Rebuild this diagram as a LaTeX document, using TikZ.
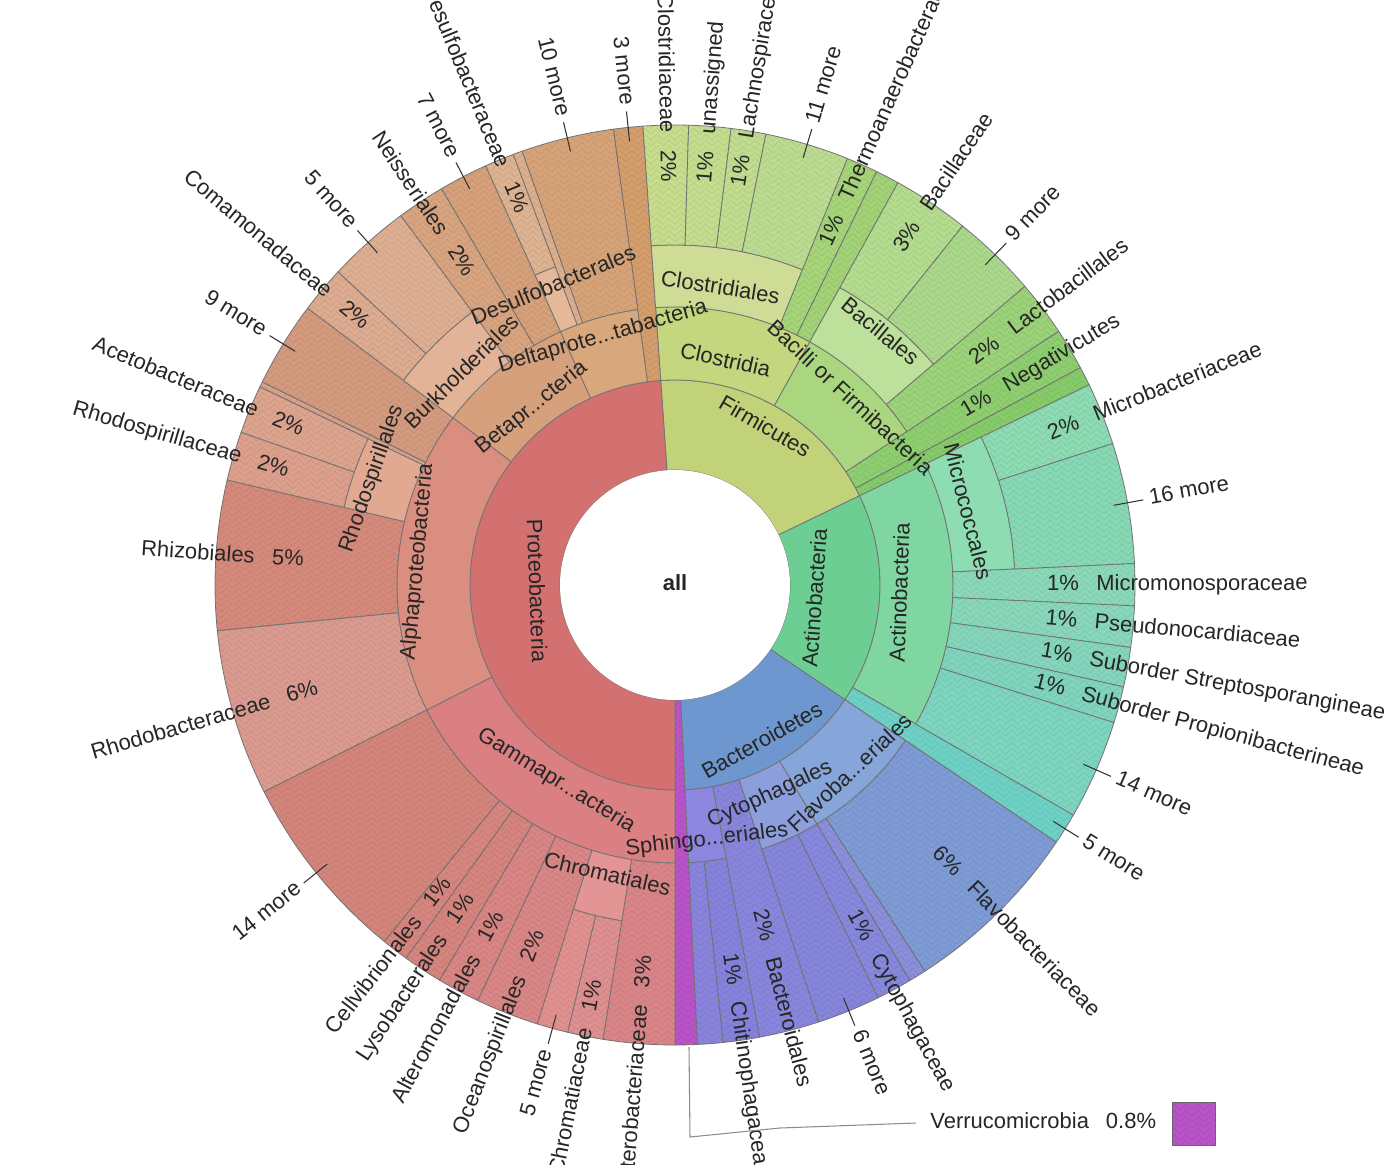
\documentclass[tikz,border=0pt]{standalone}
\usepackage{fontspec}
\setmainfont{Liberation Sans}
\usepackage{tikz}
\usetikzlibrary{positioning}
\usetikzlibrary{patterns.meta}
\pgfdeclarelayer{ringlayer}
\pgfsetlayers{ringlayer,main}
\pgfdeclarepattern{
    name=weave,
    type=uncolored,
    bottom left={\pgfpoint{0pt}{0pt}},
    top right={\pgfpoint{7pt}{7pt}},
    tile size={\pgfpoint{7pt}{7pt}},
    code={
        \pgfsetlinewidth{0.45pt}
        \pgfpathmoveto{\pgfpoint{0pt}{0pt}}\pgfpathlineto{\pgfpoint{3.5pt}{3.5pt}}
        \pgfpathlineto{\pgfpoint{7pt}{0pt}}
        \pgfpathmoveto{\pgfpoint{0pt}{3.5pt}}\pgfpathlineto{\pgfpoint{3.5pt}{7pt}}
        \pgfpathlineto{\pgfpoint{7pt}{3.5pt}}
        \pgfusepath{stroke}
    }
}
\tikzset{
    ring/.style = {draw=black!55, line width=0.45pt, line join=round},
    hatch/.style = {postaction={pattern=weave, pattern color=black, fill opacity=0.07}},
    lbl/.style = {inner sep=0pt, text=black!85, font=\fontsize{12.5}{14}\selectfont, text height=8.9pt, text depth=2.6pt},
    tick/.style = {draw=black!80, line width=0.6pt},
    leader/.style = {draw=black!45, line width=0.6pt}
}
\definecolor{verru}{HTML}{B953C8}

% one piece of a ring: from angle #1 to #2 (clockwise from top), radii #3 to #4, colour #5
\newcommand{\wedgepart}[5]{%
  \definecolor{wedgecol}{HTML}{#5}%
  \pgfmathsetmacro{\wa}{90-(#1)}%
  \pgfmathsetmacro{\wb}{90-(#2)}%
  \ifnum#4=460
    \filldraw[ring, fill=wedgecol, hatch] (\wa:#3) arc[start angle=\wa, end angle=\wb, radius=#3]
      -- (\wb:#4) arc[start angle=\wb, end angle=\wa, radius=#4] -- cycle;
  \else
    \filldraw[ring, fill=wedgecol] (\wa:#3) arc[start angle=\wa, end angle=\wb, radius=#3]
      -- (\wb:#4) arc[start angle=\wb, end angle=\wa, radius=#4] -- cycle;
  \fi}

% radial label of a leaf: name and percentage
\newcommand{\leaflabel}[6]{%
  \pgfmathsetmacro{\mang}{90-((#1)+(#2))/2}%
  \pgfmathsetmacro{\rpct}{((#3)+460)/2+19}%
  \pgfmathsetmacro{\rname}{\rpct+33}%
  \pgfmathtruncatemacro{\rside}{cos(\mang) > -0.001 ? 1 : 0}%
  \ifnum\rside=1
    \node[lbl, rotate=\mang] (#6-pct) at (\mang:\rpct) {#5};
    \node[lbl, rotate=\mang, anchor=west] (#6) at (\mang:\rname) {#4};
  \else
    \pgfmathsetmacro{\mrot}{\mang+180}%
    \node[lbl, rotate=\mrot] (#6-pct) at (\mang:\rpct) {#5};
    \node[lbl, rotate=\mrot, anchor=east] (#6) at (\mang:\rname) {#4};
  \fi}

% "n more" label outside the ring, with its tick
\newcommand{\morelabel}[4]{%
  \pgfmathsetmacro{\mang}{90-((#1)+(#2))/2}%
  \pgfmathtruncatemacro{\rside}{cos(\mang) > -0.001 ? 1 : 0}%
  \coordinate (#4-in) at (\mang:446);
  \ifnum\rside=1
    \node[lbl, inner xsep=0.12cm, rotate=\mang, anchor=west] (#4) at (\mang:476) {#3};
    \draw[tick] (#4-in) -- (#4.west);
  \else
    \pgfmathsetmacro{\mrot}{\mang+180}%
    \node[lbl, inner xsep=0.12cm, rotate=\mrot, anchor=east] (#4) at (\mang:476) {#3};
    \draw[tick] (#4-in) -- (#4.east);
  \fi}

\begin{document}
\begin{tikzpicture}[x=0.02cm, y=0.02cm]
    \useasboundingbox (-675,-579) rectangle (725,585);

    \begin{pgfonlayer}{ringlayer}
        \fill[white] (-675,-579) rectangle (725,585);
        % phyla
        \wedgepart{-4}{64.2}{115}{205}{C1D278}
        \wedgepart{64.2}{124}{115}{205}{6DCE93}
        \wedgepart{124}{177.2}{115}{205}{6F97CF}
        \wedgepart{177.2}{180}{115}{460}{B953C8}
        \wedgepart{180}{356}{115}{205}{D37171}
        % classes
        \wedgepart{-4}{29}{205}{278}{C4D67E}
        \wedgepart{29}{56.5}{205}{278}{ABD680}
        \wedgepart{56.5}{61.8}{205}{460}{8FCE70}
        \wedgepart{61.8}{64.2}{205}{460}{86CB6A}
        \wedgepart{64.2}{120}{205}{278}{80D6A0}
        \wedgepart{120}{124}{205}{460}{6ED1C6}
        \wedgepart{124}{149.3}{205}{278}{86A6D9}
        \wedgepart{149.3}{161.8}{205}{278}{8C9EDC}
        \wedgepart{161.8}{169.4}{205}{460}{8886DC}
        \wedgepart{169.4}{177.2}{205}{278}{8D86DF}
        \wedgepart{180}{243.3}{205}{278}{DA7F82}
        \wedgepart{243.3}{307}{205}{278}{D98E7F}
        \wedgepart{307}{335.7}{205}{278}{D6A07D}
        \wedgepart{335.7}{352.3}{205}{278}{D9A77C}
        \wedgepart{352.3}{356}{205}{460}{D39D6C}
        % orders
        \wedgepart{-4}{22}{278}{340}{CEDC95}
        \wedgepart{22}{26}{278}{460}{A6D479}
        \wedgepart{26}{29}{278}{460}{A2D277}
        \wedgepart{29}{49.5}{278}{340}{BDE09B}
        \wedgepart{49.5}{56.5}{278}{460}{9BD27A}
        \wedgepart{64.2}{87.3}{278}{340}{8EDCB1}
        \wedgepart{87.3}{92.6}{278}{460}{8BD8B9}
        \wedgepart{92.6}{97.8}{278}{460}{88D7BB}
        \wedgepart{97.8}{102.8}{278}{460}{84D5BC}
        \wedgepart{102.8}{107.4}{278}{460}{80D4BD}
        \wedgepart{107.4}{120}{278}{460}{7DD5C0}
        \wedgepart{180}{189}{278}{460}{D98587}
        \wedgepart{189}{197.4}{278}{340}{E29594}
        \wedgepart{197.4}{205.4}{278}{460}{D98686}
        \wedgepart{205.4}{210.8}{278}{460}{D88583}
        \wedgepart{210.8}{215.8}{278}{460}{D5847E}
        \wedgepart{215.8}{219.2}{278}{460}{D6867F}
        \wedgepart{219.2}{243.3}{278}{460}{D4857B}
        \wedgepart{243.3}{264.3}{278}{460}{DA9A90}
        \wedgepart{264.3}{283.2}{278}{460}{D4897A}
        \wedgepart{283.2}{295.5}{278}{340}{E2A992}
        \wedgepart{295.5}{296.2}{278}{460}{D8A089}
        \wedgepart{296.2}{307}{278}{460}{D49A7E}
        \wedgepart{307}{323.4}{278}{340}{E3B397}
        \wedgepart{323.4}{329.5}{278}{460}{D7A47F}
        \wedgepart{329.5}{335.7}{278}{460}{D5A07A}
        \wedgepart{335.7}{339.4}{278}{340}{E5B899}
        \wedgepart{339.4}{340.6}{278}{460}{DCAE8C}
        \wedgepart{340.6}{352.3}{278}{460}{D6A378}
        % families
        \wedgepart{-4}{1.7}{340}{460}{C8DC8E}
        \wedgepart{1.7}{7}{340}{460}{C4DC8E}
        \wedgepart{7}{11.4}{340}{460}{C0DC8E}
        \wedgepart{11.4}{22}{340}{460}{BBDC90}
        \wedgepart{29}{38.7}{340}{460}{B4DC8F}
        \wedgepart{38.7}{49.5}{340}{460}{AAD88A}
        \wedgepart{64.2}{72.1}{340}{460}{8CDBB2}
        \wedgepart{72.1}{87.3}{340}{460}{87D8B4}
        \wedgepart{124}{147.1}{278}{460}{7E9BD5}
        \wedgepart{147.1}{149.3}{278}{460}{8A8FDB}
        \wedgepart{149.3}{153.8}{278}{460}{8588DC}
        \wedgepart{153.8}{161.8}{278}{460}{8585DB}
        \wedgepart{169.4}{174}{278}{460}{8582DC}
        \wedgepart{174}{177.2}{278}{460}{8A83DC}
        \wedgepart{189}{193.5}{340}{460}{DE8F90}
        \wedgepart{193.5}{197.4}{340}{460}{E0918F}
        \wedgepart{283.2}{289.4}{340}{460}{DC9F8C}
        \wedgepart{289.4}{295.5}{340}{460}{DCA48D}
        \wedgepart{307}{312.9}{340}{460}{DCAB90}
        \wedgepart{312.9}{323.4}{340}{460}{DDAE92}
        \wedgepart{335.7}{339.4}{340}{460}{DDB391}
        \fill[white] (0,0) circle (115);
    \end{pgfonlayer}

    % inner labels
    \node[lbl, font=\fontsize{12.5}{14}\selectfont\bfseries] (all) at (0,0) {all};
    \node[lbl, rotate=-88] (proteo) at (-140,-6) {Proteobacteria};
    \node[lbl, rotate=-30.1] (firm) at (89,157) {Firmicutes};
    \node[lbl, rotate=85.9] (actino) at (141.7,-13) {Actinobacteria};
    \node[lbl, rotate=29.4] (bactd) at (88,-157) {Bacteroidetes};
    \node[lbl, rotate=-31.65] (gamma) at (-119,-196) {Gammapr...acteria};
    \node[lbl, rotate=84.85] (alpha) at (-257,23) {Alphaproteobacteria};
    \node[lbl, rotate=38.65] (beta) at (-143.3,176.7) {Betapr...cteria};
    \node[lbl, rotate=16] (delta) at (-72,248) {Deltaprote...tabacteria};
    \node[lbl, rotate=-12.5] (clostridia) at (50,223) {Clostridia};
    \node[lbl, rotate=-42.75] (bacilli) at (174,186) {Bacilli or Firmibacteria};
    \node[lbl, rotate=87.9] (actinocl) at (226.7,-7.5) {Actinobacteria};
    \node[lbl, rotate=43.35] (flavoord) at (176.5,-189) {Flavoba...eriales};
    \node[lbl, rotate=24.45] (cytoord) at (95,-210) {Cytophagales};
    \node[lbl, rotate=6.7] (sphingo) at (32,-255) {Sphingo...eriales};
    \node[lbl, rotate=-9] (clostridiales) at (45,296) {Clostridiales};
    \node[lbl, rotate=-39.25] (bacillales) at (204,252) {Bacillales};
    \node[lbl, rotate=-75.75] (micrococ) at (291,73) {Micrococcales};
    \node[lbl, rotate=44.8] (burkh) at (-212,212) {Burkholderiales};
    \node[lbl, rotate=70.65] (rhodospord) at (-303,106) {Rhodospirillales};
    \node[lbl, rotate=22.45] (desulford) at (-121,298) {Desulfobacterales};
    \node[lbl, rotate=-13.2] (chromord) at (-68,-291) {Chromatiales};

    % leaf labels
    \leaflabel{-4}{1.7}{340}{Clostridiaceae}{2\%}{clostridiaceae}
    \leaflabel{1.7}{7}{340}{unassigned}{1\%}{unassigned}
    \leaflabel{7}{11.4}{340}{Lachnospiraceae}{1\%}{lachno}
    \leaflabel{22}{26}{278}{Thermoanaerobacteraceae}{1\%}{thermo}
    \leaflabel{29}{38.7}{340}{Bacillaceae}{3\%}{bacillaceae}
    \leaflabel{49.5}{56.5}{278}{Lactobacillales}{2\%}{lacto}
    \leaflabel{56.5}{61.8}{205}{Negativicutes}{1\%}{negativ}
    \leaflabel{64.2}{72.1}{340}{Microbacteriaceae}{2\%}{microbac}
    \leaflabel{87.3}{92.6}{278}{Micromonosporaceae}{1\%}{micromono}
    \leaflabel{92.6}{97.8}{278}{Pseudonocardiaceae}{1\%}{pseudo}
    \leaflabel{97.8}{102.8}{278}{Suborder Streptosporangineae}{1\%}{strepto}
    \leaflabel{102.8}{107.4}{278}{Suborder Propionibacterineae}{1\%}{propioni}
    \leaflabel{124}{147.1}{278}{Flavobacteriaceae}{6\%}{flavobac}
    \leaflabel{149.3}{153.8}{278}{Cytophagaceae}{1\%}{cytophagaceae}
    \leaflabel{161.8}{169.4}{205}{Bacteroidales}{2\%}{bacteroidales}
    \leaflabel{169.4}{174}{278}{Chitinophagaceae}{1\%}{chitino}
    \leaflabel{180}{189}{278}{Enterobacteriaceae}{3\%}{entero}
    \leaflabel{189}{193.5}{340}{Chromatiaceae}{1\%}{chromatiaceae}
    \leaflabel{197.4}{205.4}{278}{Oceanospirillales}{2\%}{oceano}
    \leaflabel{205.4}{210.8}{278}{Alteromonadales}{1\%}{altero}
    \leaflabel{210.8}{215.8}{278}{Lysobacterales}{1\%}{lysob}
    \leaflabel{215.8}{219.2}{278}{Cellvibrionales}{1\%}{cellvib}
    \leaflabel{243.3}{264.3}{278}{Rhodobacteraceae}{6\%}{rhodobac}
    \leaflabel{264.3}{283.2}{278}{Rhizobiales}{5\%}{rhizob}
    \leaflabel{283.2}{289.4}{340}{Rhodospirillaceae}{2\%}{rhodospirillaceae}
    \leaflabel{289.4}{295.5}{340}{Acetobacteraceae}{2\%}{acetobac}
    \leaflabel{307}{312.9}{340}{Comamonadaceae}{2\%}{comamonad}
    \leaflabel{323.4}{329.5}{278}{Neisseriales}{2\%}{neiss}
    \leaflabel{335.7}{339.4}{340}{Desulfobacteraceae}{1\%}{desulfobac}

    % collapsed groups
    \morelabel{11.4}{22}{11 more}{clostrmore}
    \morelabel{38.7}{49.5}{9 more}{bacilmore}
    \morelabel{72.1}{87.3}{16 more}{micromore}
    \morelabel{107.4}{120}{14 more}{actorest}
    \morelabel{120}{124}{5 more}{actmore}
    \morelabel{153.8}{161.8}{6 more}{cytomore}
    \morelabel{193.5}{197.4}{5 more}{chrommore}
    \morelabel{219.2}{243.3}{14 more}{gammarest}
    \morelabel{296.2}{307}{9 more}{alpharest}
    \morelabel{312.9}{323.4}{5 more}{burkhmore}
    \morelabel{329.5}{335.7}{7 more}{betarest}
    \morelabel{340.6}{352.3}{10 more}{deltarest}
    \morelabel{352.3}{356}{3 more}{proteomore}

    % legend for the small phylum
    \node[lbl, anchor=west] (verrulab) at (255,-538) {Verrucomicrobia};
    \node[lbl] (verrupct) at (456,-538) {0.8\%};
    \node[draw=black!60, fill=verru, hatch, minimum size=0.86cm, inner sep=0pt] (verrubox) at (518.5,-539) {};
    \coordinate (verrutip) at (14,-462);
    \draw[leader] (verrutip) -- (15,-552) -- (105,-543) -- ([xshift=-0.28cm]verrulab.west);
\end{tikzpicture}
\end{document}
